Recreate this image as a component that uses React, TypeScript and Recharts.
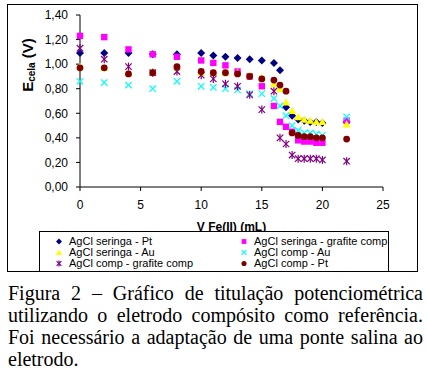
import React from 'react';
import { ScatterChart, Scatter, XAxis, YAxis, Legend } from 'recharts';

const xValues = [0, 2, 4, 6, 8, 10, 11, 12, 13, 14, 15, 16, 16.5, 17, 17.5, 18, 18.5, 19, 19.5, 20, 22];

const seringaPt = [1.09, 1.09, 1.09, 1.08, 1.08, 1.09, 1.07, 1.06, 1.05, 1.04, 1.03, 1.01, 0.95, 0.65, 0.58, 0.55, 0.54, 0.53, 0.53, 0.52, 0.53];
const seringaGrafite = [1.23, 1.22, 1.12, 1.08, 1.06, 1.03, 1.01, 0.99, 0.94, 0.90, 0.82, 0.66, 0.53, 0.49, 0.45, 0.38, 0.37, 0.37, 0.36, 0.36, 0.54];
const seringaAu = [0.98, 0.97, 0.93, 0.94, 0.97, 0.93, 0.93, 0.93, 0.93, 0.91, 0.89, 0.84, 0.80, 0.69, 0.62, 0.57, 0.55, 0.54, 0.53, 0.53, 0.51];
const compAu = [0.86, 0.85, 0.83, 0.80, 0.86, 0.82, 0.81, 0.80, 0.79, 0.76, 0.76, 0.72, 0.66, 0.58, 0.50, 0.46, 0.44, 0.44, 0.43, 0.42, 0.57];
const compGrafite = [1.13, 1.04, 0.98, 0.93, 0.94, 0.91, 0.88, 0.84, 0.82, 0.75, 0.63, 0.78, 0.40, 0.35, 0.26, 0.23, 0.23, 0.23, 0.23, 0.22, 0.21];
const compPt = [0.97, 0.97, 0.92, 0.93, 0.98, 0.94, 0.93, 0.93, 0.92, 0.90, 0.88, 0.87, 0.83, 0.78, 0.44, 0.42, 0.41, 0.41, 0.40, 0.40, 0.39];

const xTicks = [0, 5, 10, 15, 20, 25];
const yTicks = [0, 0.2, 0.4, 0.6, 0.8, 1.0, 1.2, 1.4];

const captionLines = [
  'Figura 2 – Gráfico de titulação potenciométrica',
  'utilizando o eletrodo compósito como referência.',
  'Foi necessário a adaptação de uma ponte salina ao',
  'eletrodo.',
];

type Kind = 'diamond' | 'square' | 'triangle' | 'x' | 'star' | 'circle';

const series: { name: string; color: string; kind: Kind; values: number[] }[] = [
  { name: 'AgCl seringa - Pt', color: '#000080', kind: 'diamond', values: seringaPt },
  { name: 'AgCl seringa - grafite comp', color: '#FF00FF', kind: 'square', values: seringaGrafite },
  { name: 'AgCl seringa - Au', color: '#FFFF00', kind: 'triangle', values: seringaAu },
  { name: 'AgCl comp - Au', color: '#00FFFF', kind: 'x', values: compAu },
  { name: 'AgCl comp - grafite comp', color: '#800080', kind: 'star', values: compGrafite },
  { name: 'AgCl comp - Pt', color: '#800000', kind: 'circle', values: compPt },
];

const toPoints = (ys: number[]) => xValues.map((x, i) => ({ x, y: ys[i] }));

function markerShape(kind: Kind, cx: number, cy: number, color: string, s: number) {
  switch (kind) {
    case 'diamond':
      return <path d={`M${cx},${cy - s}L${cx + s},${cy}L${cx},${cy + s}L${cx - s},${cy}Z`} fill={color} />;
    case 'square':
      return <rect x={cx - s * 0.8} y={cy - s * 0.8} width={s * 1.6} height={s * 1.6} fill={color} />;
    case 'triangle':
      return <path d={`M${cx},${cy - s}L${cx + s},${cy + s * 0.8}L${cx - s},${cy + s * 0.8}Z`} fill={color} />;
    case 'x':
      return (
        <g stroke={color} strokeWidth={1.2}>
          <line x1={cx - s * 0.8} y1={cy - s * 0.8} x2={cx + s * 0.8} y2={cy + s * 0.8} />
          <line x1={cx - s * 0.8} y1={cy + s * 0.8} x2={cx + s * 0.8} y2={cy - s * 0.8} />
        </g>
      );
    case 'star':
      return (
        <g stroke={color} strokeWidth={1.2}>
          <line x1={cx - s * 0.8} y1={cy - s * 0.8} x2={cx + s * 0.8} y2={cy + s * 0.8} />
          <line x1={cx - s * 0.8} y1={cy + s * 0.8} x2={cx + s * 0.8} y2={cy - s * 0.8} />
          <line x1={cx} y1={cy - s} x2={cx} y2={cy + s} />
        </g>
      );
    case 'circle':
    default:
      return <circle cx={cx} cy={cy} r={s * 0.85} fill={color} />;
  }
}

const fmt = (v: number) => v.toFixed(2).replace('.', ',');

const YLabel = (props: any) => {
  const vb = props.viewBox || { x: 0, y: 15, width: 80, height: 172 };
  const x = vb.x + 33;
  const y = vb.y + 50;
  return (
    <text x={x} y={y} transform={`rotate(-90, ${x}, ${y})`} textAnchor="middle" fontFamily="Liberation Sans, Arial" fontWeight="bold" fill="#000">
      <tspan fontSize={15}>E</tspan>
      <tspan fontSize={10} dy={2}>cela</tspan>
      <tspan fontSize={15} dy={-2}> (V)</tspan>
    </text>
  );
};

const XLabel = (props: any) => {
  const vb = props.viewBox || { x: 80, y: 187, width: 303, height: 93 };
  return (
    <text x={vb.x + vb.width / 2} y={vb.y + 44} textAnchor="middle" fontFamily="Liberation Sans, Arial" fontWeight="bold" fontSize={12} fill="#000">
      V Fe(II) (mL)
    </text>
  );
};

const LegendContent = () => (
  <div style={{ position: 'relative', width: '100%', height: '100%', fontFamily: 'Liberation Sans, Arial', fontSize: 11, color: '#000' }}>
    {series.map((s, i) => {
      const col = i % 2;
      const row = Math.floor(i / 2);
      const left = col === 0 ? 14 : 199;
      const top = 4 + row * 11;
      return (
        <div key={s.name} style={{ position: 'absolute', left, top, height: 11, lineHeight: '11px', whiteSpace: 'nowrap', display: 'flex', alignItems: 'center' }}>
          <svg width={10} height={11} style={{ display: 'block' }}>
            {markerShape(s.kind, 5, 5.5, s.color, 3)}
          </svg>
          <span style={{ marginLeft: 5 }}>{s.name}</span>
        </div>
      );
    })}
  </div>
);

export default function App() {
  return (
    <div style={{ position: 'absolute', left: 0, top: 0, width: 427, height: 371, background: '#fff', overflow: 'hidden' }}>
      <div style={{ position: 'absolute', left: 7, top: 4, width: 411, height: 268, border: '1px solid #000', boxSizing: 'border-box' }} />
      <div style={{ position: 'absolute', left: 0, top: 0 }}>
        <ScatterChart width={427} height={280} margin={{ top: 15, right: 44, left: 0, bottom: 0 }}>
          <XAxis
            xAxisId={0}
            type="number"
            dataKey="x"
            domain={[0, 25]}
            ticks={xTicks}
            interval={0}
            height={93}
            tickSize={4}
            tickMargin={9}
            tick={{ fontSize: 12, fill: '#000', fontFamily: 'Liberation Sans, Arial' }}
            axisLine={{ stroke: '#000' }}
            tickLine={{ stroke: '#000' }}
            label={<XLabel />}
          />
          <XAxis xAxisId="top" orientation="top" type="number" domain={[0, 25]} height={0} tick={false} tickLine={false} axisLine={{ stroke: '#000' }} />
          <YAxis
            yAxisId={0}
            type="number"
            dataKey="y"
            domain={[0, 1.4]}
            ticks={yTicks}
            interval={0}
            width={80}
            tickSize={4}
            tickMargin={8}
            tickFormatter={fmt}
            tick={{ fontSize: 12, fill: '#000', fontFamily: 'Liberation Sans, Arial' }}
            axisLine={{ stroke: '#000' }}
            tickLine={{ stroke: '#000' }}
            label={<YLabel />}
          />
          <YAxis yAxisId="right" orientation="right" type="number" domain={[0, 1.4]} width={0} tick={false} tickLine={false} axisLine={{ stroke: '#000' }} />
          {series.map((s) => (
            <Scatter
              key={s.name}
              name={s.name}
              data={toPoints(s.values)}
              xAxisId={0}
              yAxisId={0}
              isAnimationActive={false}
              fill={s.color}
              shape={(p: any) => markerShape(s.kind, p.cx, p.cy, s.color, 4)}
            />
          ))}
          <Legend
            layout="horizontal"
            verticalAlign="middle"
            align="center"
            content={<LegendContent />}
            wrapperStyle={{ left: 39, top: 231, width: 350, height: 41, border: '1px solid #000', boxSizing: 'border-box', background: '#fff' }}
          />
        </ScatterChart>
      </div>
      <div style={{ position: 'absolute', left: 8, top: 282, width: 415, fontFamily: 'Liberation Serif, Times New Roman, serif', fontSize: 20, lineHeight: '22px', color: '#000' }}>
        {captionLines.map((l, i) => (
          <div key={i} style={{ textAlign: i < captionLines.length - 1 ? 'justify' : 'left', textAlignLast: i < captionLines.length - 1 ? 'justify' : 'left', whiteSpace: 'nowrap' as any }}>
            {l}
          </div>
        ))}
      </div>
    </div>
  );
}
